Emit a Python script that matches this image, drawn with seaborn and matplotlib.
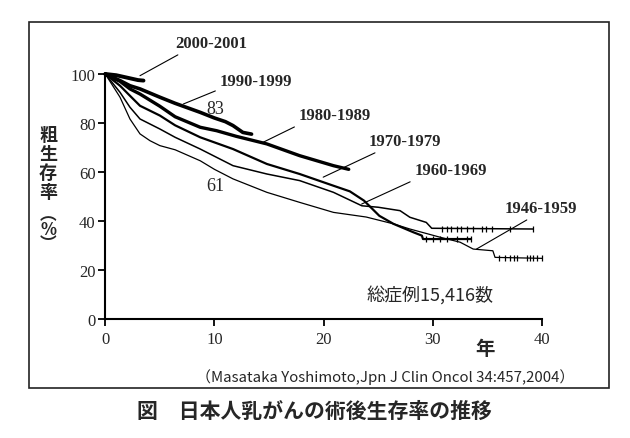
import matplotlib
matplotlib.use("Agg")
import matplotlib.pyplot as plt
from matplotlib.patches import Rectangle
import seaborn as sns
import pandas as pd

# survival curves (years, crude survival %)
yrs_2000 = [0, 1, 2, 3, 3.5]
surv_2000 = [100, 99.5, 98.5, 97.5, 97.3]

yrs_1990 = [0, 1.35, 2.26, 3.18, 5.0, 6.4, 8.7, 10, 11, 11.7, 12.6, 13.4]
surv_1990 = [100, 97.3, 95.2, 93.9, 90.5, 88, 84.3, 82, 80.5, 78.9, 76.1, 75.4]

yrs_1980 = [0, 1.35, 2.26, 3.18, 5.0, 6.4, 8.7, 10.2, 12, 14.8, 17.8, 20.9, 22.3]
surv_1980 = [100, 97, 93.9, 91.8, 86.8, 82.5, 78.2, 76.8, 74.5, 71.4, 66.6, 62.5, 61]

yrs_1970 = [0, 1.35, 2.26, 3.18, 5.0, 6.4, 8.7, 11.7, 14.8, 17.8, 20.9, 22.4,
            23.7, 25.1, 26.4, 28.2, 29.0, 29.1, 33.5]
surv_1970 = [100, 95.2, 91.1, 87, 83, 79, 74.1, 69.3, 63.2, 59.1, 54.3, 52,
             48.2, 42, 38.7, 35.3, 33.9, 32.5, 32.5]

yrs_1960 = [0, 1.35, 2.26, 3.18, 5.0, 6.4, 8.7, 11.7, 14.8, 17.8, 20.9, 23.5,
            25, 27, 27.9, 29.4, 29.9, 39.2]
surv_1960 = [100, 92.5, 86.4, 81.6, 77.5, 74.1, 69.3, 62.5, 59.1, 56.4, 51.6,
             46.1, 45.5, 44.1, 41.4, 39.3, 36.9, 36.6]

yrs_1946 = [0, 1.35, 2.26, 3.18, 4.1, 5.0, 6.4, 8.7, 10, 11.7, 14.8, 17.8, 20.9,
            23.9, 26.4, 27.9, 30.7, 32.5, 33.7, 35.5, 35.7, 40]
surv_1946 = [100, 90.5, 81.6, 75.5, 72.7, 70.7, 69, 64.5, 61, 57.1, 51.6, 47.5,
             43.4, 41.5, 38.7, 36.6, 33.2, 31.2, 28.4, 27.7, 25, 24.6]

# censoring ticks on the flat tails
cens_1970 = [29.4, 30.0, 30.7, 31.3, 32.2, 33.1, 33.5]
cens_1960 = [30.8, 31.3, 31.7, 32.2, 32.6, 33.1, 33.7, 34.5, 34.9, 35.4, 37.1, 39.2]
cens_1946 = [36.1, 36.6, 37.1, 37.4, 37.7, 38.6, 38.9, 39.2, 39.5, 40]

x_ticks = [0, 10, 20, 30, 40]
y_ticks = [0, 20, 40, 60, 80, 100]

sns.set_theme(style="ticks")
plt.rcParams["font.family"] = ["Noto Sans CJK JP", "DejaVu Sans"]

fig = plt.figure(figsize=(6.3, 4.39), dpi=100)
ax = fig.add_axes([0.1671, 0.2722, 0.6932, 0.5570])

series = [
    (yrs_2000, surv_2000, 2.8),
    (yrs_1990, surv_1990, 2.6),
    (yrs_1980, surv_1980, 2.4),
    (yrs_1970, surv_1970, 1.6),
    (yrs_1960, surv_1960, 1.1),
    (yrs_1946, surv_1946, 0.9),
]
for xs, ys, lw in series:
    df = pd.DataFrame({"year": xs, "surv": ys})
    sns.lineplot(data=df, x="year", y="surv", color="black", linewidth=lw,
                 estimator=None, ax=ax, clip_on=False)

for cx, level in [(cens_1970, 32.5), (cens_1960, 36.6), (cens_1946, 24.6)]:
    sns.scatterplot(x=cx, y=[level] * len(cx), marker="|", s=22, color="black",
                    linewidth=0.9, ax=ax, clip_on=False)

ax.set_xlim(0, 40)
ax.set_ylim(0, 100)
ax.set_xticks(x_ticks)
ax.set_yticks(y_ticks)
ax.set_xlabel("")
ax.set_ylabel("")
sns.despine(ax=ax)
for s in ["left", "bottom"]:
    ax.spines[s].set_linewidth(1.5)
    ax.spines[s].set_color("black")
ax.tick_params(axis="both", length=5, width=1.3, color="black")
ax.tick_params(axis="y", pad=2)
ax.tick_params(axis="x", pad=4)
for lab in ax.get_xticklabels() + ax.get_yticklabels():
    lab.set_fontfamily("Liberation Serif")
    lab.set_fontsize(12)

serif = "Liberation Serif"
labels = [
    ("2000-2001", (9.68, 112.7), (3.18, 99.3), (0.14, 0)),
    ("1990-1999", (13.82, 97.1), (7.14, 87.7), (0.0, 0)),
    ("1980-1989", (21.03, 83.2), (14.47, 72.1), (0.05, 0)),
    ("1970-1979", (27.45, 72.6), (19.96, 57.8), (0.2, 0)),
    ("1960-1969", (31.66, 60.7), (23.48, 46.8), (0.05, 0)),
    ("1946-1959", (39.9, 45.2), (34.0, 28.4), (0.4, 0)),
]
for txt, pos, tgt, rp in labels:
    ax.annotate(txt, xy=tgt, xytext=pos, ha="center", va="center",
                fontfamily=serif, fontweight="bold", fontsize=12,
                annotation_clip=False,
                arrowprops=dict(arrowstyle="-", color="black", lw=0.8,
                                relpos=rp, shrinkA=1, shrinkB=0))

ax.text(10.05, 85.7, "83", ha="center", va="center", fontfamily=serif, fontsize=13)
ax.text(10.05, 54.3, "61", ha="center", va="center", fontfamily=serif, fontsize=13)
ax.text(29.74, 10.0, "総症例15,416数", ha="center", va="center", fontsize=13)

W, H = 630, 439
fig.text(485 / W, 1 - 350 / H, "年", ha="center", va="center", fontsize=14,
         fontweight="bold")
fig.text(385 / W, 1 - 377 / H, "（Masataka Yoshimoto,Jpn J Clin Oncol 34:457,2004）",
         ha="center", va="center", fontsize=10.8)
fig.text(48 / W, 1 - 164 / H, "粗\n生\n存\n率", ha="center", va="center",
         fontsize=13, fontweight="bold", linespacing=1.0)
fig.text(48 / W, 1 - 230 / H, "︵\n%\n︶", ha="center", va="center",
         fontsize=12, fontweight="bold", linespacing=0.75)
fig.text(314 / W, 1 - 411 / H, "図　日本人乳がんの術後生存率の推移", ha="center",
         va="center", fontsize=15, fontweight="bold")

fig.patches.append(Rectangle((29 / W, 1 - 389 / H), 580 / W, 366 / H,
                             transform=fig.transFigure, fill=False,
                             edgecolor="#222222", linewidth=1.2))

fig.savefig("out.png", dpi=100)
